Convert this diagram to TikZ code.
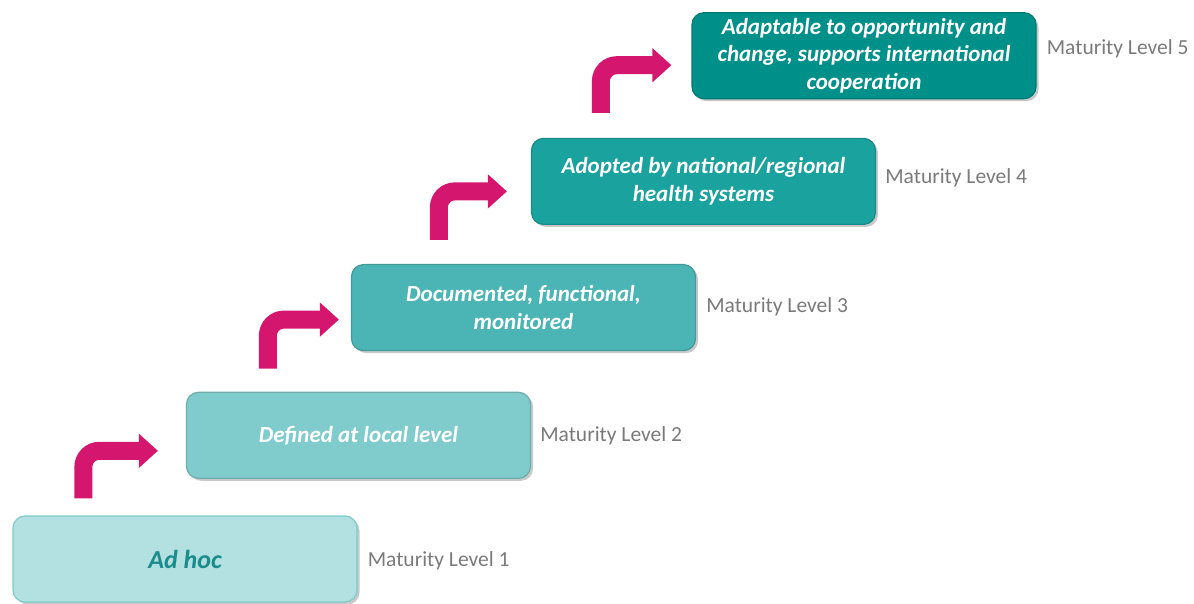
\documentclass[tikz,border=0pt]{standalone}
\usepackage{fontspec}
\setmainfont{Carlito}
\usetikzlibrary{arrows.meta, positioning, shadows}
\definecolor{tealA}{HTML}{B3E0E0}
\definecolor{tealB}{HTML}{80CCCC}
\definecolor{tealC}{HTML}{4BB5B5}
\definecolor{tealD}{HTML}{1AA29F}
\definecolor{tealE}{HTML}{00908A}
\definecolor{tealText}{HTML}{1A8C8C}
\definecolor{pinkArrow}{HTML}{D4166F}
\definecolor{labelGray}{HTML}{7A7A7A}
\tikzset{
    base/.style = {rectangle, rounded corners=12pt, line width=1.2pt, minimum width=344pt, minimum height=86pt, inner sep=0pt, align=center, text=white, font=\fontsize{23}{27.5}\selectfont\bfseries\itshape, drop shadow={shadow xshift=2.5pt, shadow yshift=-2.5pt, fill=black!70, opacity=0.3}},
    adhoc/.style      = {base, fill=tealA, draw=tealB, text=tealText, font=\fontsize{26}{27.5}\selectfont\bfseries\itshape},
    defined/.style    = {base, fill=tealB, draw=tealB!85!black},
    documented/.style = {base, fill=tealC, draw=tealC!85!black},
    adopted/.style    = {base, fill=tealD, draw=tealD!85!black},
    adaptable/.style  = {base, fill=tealE, draw=tealE!85!black},
    level/.style = {inner sep=0pt, text=labelGray, font=\fontsize{21.5}{24}\selectfont},
    arrow/.style = {draw=pinkArrow, line width=18pt, rounded corners=16pt, -{Triangle[length=19pt, width=33pt]}}
}

\begin{document}
\begin{tikzpicture}[node distance=36pt]
        \useasboundingbox (0,0) rectangle (1194pt,603pt);

        % Maturity stages
        \node (lvl1) [adhoc] at (185pt,44pt) {Ad hoc};
        \node (lvl2) [defined, above=36.5pt of lvl1, xshift=173.5pt] {Defined at local level};
        \node (lvl3) [documented, above=40.5pt of lvl2, xshift=165pt] {Documented, functional,\\ monitored};
        \node (lvl4) [adopted, above=39pt of lvl3, xshift=180pt] {Adopted by national/regional\\ health systems};
        \node (lvl5) [adaptable, above=38.5pt of lvl4, xshift=160.5pt] {Adaptable to opportunity and\\ change, supports international\\ cooperation};

        % Level labels
        \node (lab1) [level, right=10pt of lvl1, yshift=-2pt] {Maturity Level 1};
        \node (lab2) [level, right=9pt of lvl2] {Maturity Level 2};
        \node (lab3) [level, right=10pt of lvl3, yshift=1pt] {Maturity Level 3};
        \node (lab4) [level, right=9pt of lvl4, yshift=4pt] {Maturity Level 4};
        \node (lab5) [level, right=10pt of lvl5, yshift=7pt] {Maturity Level 5};

        % Step arrows
        \draw [arrow] ([xshift=71pt, yshift=17pt]lvl1.north west) |- ([xshift=-28pt, yshift=-15.5pt]lvl2.west);
        \draw [arrow] ([xshift=82pt, yshift=23pt]lvl2.north west) |- ([xshift=-12pt, yshift=-12pt]lvl3.west);
        \draw [arrow] ([xshift=88pt, yshift=24pt]lvl3.north west) |- ([xshift=-24pt, yshift=-10pt]lvl4.west);
        \draw [arrow] ([xshift=70pt, yshift=25pt]lvl4.north west) |- ([xshift=-20pt, yshift=-9.5pt]lvl5.west);

\end{tikzpicture}
\end{document}
